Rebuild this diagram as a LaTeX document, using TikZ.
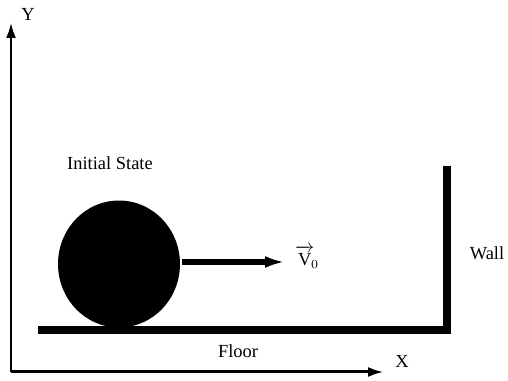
\documentclass[tikz,border=0pt]{standalone}
\usepackage{fontspec}
\setmainfont{Liberation Serif}
\usepackage{tikz}
\usetikzlibrary{positioning,arrows.meta,calc,shapes.geometric}
\tikzset{
  eje/.style={-{Latex[length=3.2mm,width=2mm]}, line width=0.6mm},
  muro/.style={line width=1.5mm},
  veloc/.style={-{Latex[length=4mm,width=2.4mm]}, line width=1.3mm},
  bola/.style={ellipse, fill=black, minimum width=2.44cm, minimum height=2.54cm, inner sep=0pt},
  etq/.style={font=\fontsize{10.5}{12}\selectfont, inner sep=0pt},
}
\begin{document}
\begin{tikzpicture}[x=0.02cm,y=-0.02cm]
  \useasboundingbox (0,0) rectangle (508,381);
  % ejes
  \coordinate (origen) at (11,372);
  \coordinate (ytop) at (11,22);
  \coordinate (xend) at (384,372);
  \draw[eje] (origen) -- (ytop);
  \draw[eje] (origen) -- (xend);
  \node[etq] (ylab) at (28,14) {Y};
  \node[etq] (xlab) at (402,361) {X};

  % suelo y pared
  \coordinate (sueloA) at (38,330);
  \coordinate (esquina) at (447,330);
  \coordinate (muroTop) at (447,166);
  \draw[muro] (sueloA) -- (esquina) -- (muroTop);
  \node[etq] (floor) at (238,351) {Floor};
  \node[etq] (wall) at (487,253) {Wall};

  % bola
  \node[bola] (ball) at (119,264) {};
  \node[etq] (init) at (110,163) {Initial State};
  \coordinate (vfin) at (285,262);
  \draw[veloc] (ball.east |- vfin) ++(2,0) coordinate (vini) -- (vfin);
  \node[etq] (v0) at (307,257) {$\overrightarrow{\mathrm{V}\rule{0pt}{8.5pt}}\!_0$};
\end{tikzpicture}
\end{document}
